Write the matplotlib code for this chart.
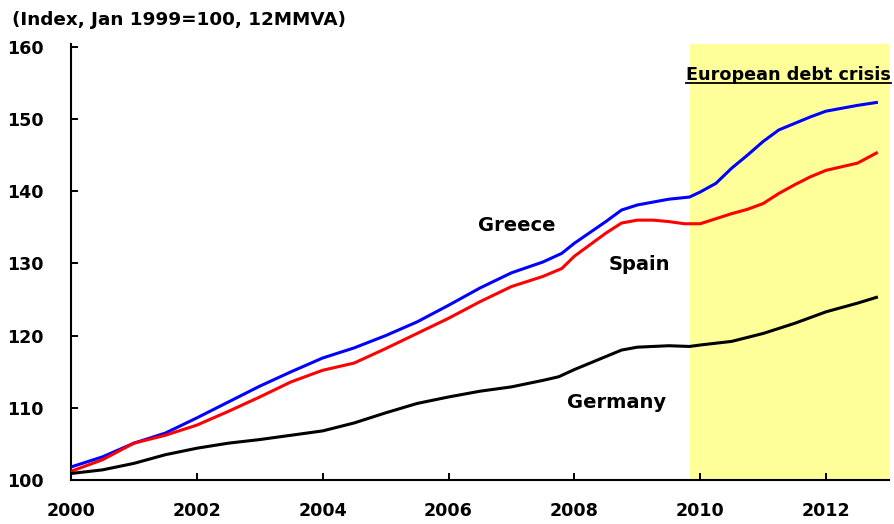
import matplotlib
matplotlib.use('Agg')
import matplotlib.pyplot as plt

plt.rcParams['font.family'] = ['DejaVu Sans']
plt.rcParams['font.weight'] = 'bold'

# Values (index, Jan 1999 = 100, 12MMVA).
greece_years = [2000.0, 2000.5, 2001.0, 2001.5, 2002.0, 2002.5, 2003.0, 2003.5, 2004.0,
                2004.5, 2005.0, 2005.5, 2006.0, 2006.5, 2007.0, 2007.5, 2007.8, 2008.0,
                2008.5, 2008.75, 2009.0, 2009.5, 2009.83, 2010.0, 2010.25, 2010.5,
                2010.75, 2011.0, 2011.25, 2011.5, 2011.75, 2012.0, 2012.5, 2012.8]
greece = [101.8, 103.2, 105.1, 106.5, 108.6, 110.8, 113.0, 115.0, 116.9,
          118.3, 120.0, 121.9, 124.2, 126.6, 128.7, 130.2, 131.4, 132.8,
          135.8, 137.4, 138.1, 138.9, 139.2, 139.9, 141.1, 143.2,
          145.0, 146.9, 148.5, 149.4, 150.3, 151.1, 151.9, 152.3]

spain_years = [2000.0, 2000.5, 2001.0, 2001.5, 2002.0, 2002.5, 2003.0, 2003.5, 2004.0,
               2004.5, 2005.0, 2005.5, 2006.0, 2006.5, 2007.0, 2007.5, 2007.8, 2008.0,
               2008.5, 2008.75, 2009.0, 2009.25, 2009.5, 2009.75, 2010.0, 2010.25,
               2010.5, 2010.75, 2011.0, 2011.25, 2011.5, 2011.75, 2012.0, 2012.5, 2012.8]
spain = [101.2, 102.8, 105.1, 106.2, 107.6, 109.5, 111.5, 113.6, 115.2,
         116.2, 118.2, 120.3, 122.4, 124.7, 126.8, 128.2, 129.3, 131.0,
         134.2, 135.6, 136.0, 136.0, 135.8, 135.5, 135.5, 136.2,
         136.9, 137.5, 138.3, 139.7, 140.9, 142.0, 142.9, 143.9, 145.3]

germany_years = [2000.0, 2000.5, 2001.0, 2001.5, 2002.0, 2002.5, 2003.0, 2003.5, 2004.0,
                 2004.5, 2005.0, 2005.5, 2006.0, 2006.5, 2007.0, 2007.5, 2007.75, 2008.0,
                 2008.5, 2008.75, 2009.0, 2009.5, 2009.83, 2010.0, 2010.5, 2011.0,
                 2011.5, 2012.0, 2012.5, 2012.8]
germany = [100.9, 101.4, 102.3, 103.5, 104.4, 105.1, 105.6, 106.2, 106.8,
           107.9, 109.3, 110.6, 111.5, 112.3, 112.9, 113.8, 114.3, 115.3,
           117.1, 118.0, 118.4, 118.6, 118.5, 118.7, 119.2, 120.3,
           121.7, 123.3, 124.5, 125.3]

CRISIS_START = 2009.83
X_TICKS = [2000, 2002, 2004, 2006, 2008, 2010, 2012]
Y_TICKS = [100, 110, 120, 130, 140, 150, 160]

fig = plt.figure(figsize=(8.95, 5.24), dpi=100)
ax = fig.add_axes([0.0793, 0.084, 0.9140, 0.832])

# Shaded crisis period
ax.axvspan(CRISIS_START, 2013, color='#FFFF99', zorder=0, lw=0)

ax.plot(greece_years, greece, color='#0000FF', lw=2.2, zorder=3)
ax.plot(spain_years, spain, color='#FF0000', lw=2.2, zorder=3)
ax.plot(germany_years, germany, color='black', lw=2.2, zorder=3)

ax.set_xlim(2000, 2013)
ax.set_ylim(100, 160.4)
ax.set_xticks(X_TICKS)
ax.set_yticks(Y_TICKS)
ax.tick_params(direction='in', length=5, width=1.4, labelsize=12.6)
ax.tick_params(axis='x', pad=16)
ax.tick_params(axis='y', pad=19.5)
for lab in ax.get_xticklabels() + ax.get_yticklabels():
    lab.set_fontweight('bold')

for side in ['top', 'right']:
    ax.spines[side].set_visible(False)
for side in ['left', 'bottom']:
    ax.spines[side].set_linewidth(1.5)

# Series labels
ax.text(2007.08, 135.2, 'Greece', fontsize=14, fontweight='bold', ha='center', va='center')
ax.text(2009.03, 129.8, 'Spain', fontsize=14, fontweight='bold', ha='center', va='center')
ax.text(2008.67, 110.7, 'Germany', fontsize=14, fontweight='bold', ha='center', va='center')

# Crisis label with underline
crisis = fig.text(0.995, 0.848, 'European debt crisis', fontsize=12.7, fontweight='bold',
                  ha='right', va='baseline')
fig.canvas.draw()
bb = crisis.get_window_extent().transformed(fig.transFigure.inverted())
fig.add_artist(plt.Line2D([bb.x0, bb.x1], [0.841, 0.841], color='black', lw=1.3,
                          transform=fig.transFigure))

fig.text(0.013, 0.962, '(Index, Jan 1999=100, 12MMVA)', fontsize=13.2, fontweight='bold',
         ha='left', va='center')

fig.savefig('out.png', dpi=100)
